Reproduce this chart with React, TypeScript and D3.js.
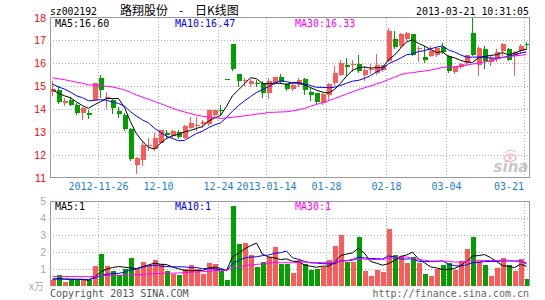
import React from "react";
import * as d3 from "d3";

const W = 545;
const H = 300;

// ---- data ----
const tickIndex = [8, 18, 28, 36, 46, 56, 66, 79];
const tickLabels = ["2012-11-26", "12-10", "12-24", "2013-01-14", "01-28", "02-18", "03-04", "03-21"];
const priceTicks = [11, 12, 13, 14, 15, 16, 17, 18];
const volTicks = [1, 2, 3, 4, 5];

const open = [14.76,14.84,14.25,14.40,14.18,13.81,13.81,14.40,15.35,14.50,14.40,13.91,13.74,13.12,11.53,11.75,12.41,12.24,12.53,12.93,12.82,12.97,12.74,13.18,13.26,13.32,13.32,13.74,13.96,15.31,16.85,15.53,15.25,15.09,15.13,15.13,14.69,15.13,15.38,15.09,14.88,15.06,15.31,14.74,14.69,14.25,14.59,15.13,15.50,15.94,15.94,15.97,15.50,15.72,15.57,15.72,16.09,17.07,16.75,17.04,17.26,16.60,16.26,16.31,16.38,16.71,16.31,15.62,15.82,16.01,17.34,15.94,16.60,16.06,16.21,16.53,16.60,16.31,16.53,16.85];
const high = [15.24,14.99,14.47,14.51,14.25,14.10,13.96,15.15,15.47,14.76,14.43,14.10,13.81,13.15,11.90,12.60,12.74,12.93,13.10,13.07,13.06,13.07,13.29,13.66,13.66,13.51,13.96,13.96,14.15,15.31,16.85,15.53,15.35,15.31,15.28,15.21,15.35,15.38,15.53,15.13,15.13,15.35,15.35,14.94,14.69,14.69,15.13,15.87,16.16,16.24,16.12,16.35,15.87,15.97,16.41,15.94,17.53,17.41,17.34,17.38,17.26,16.75,16.75,16.75,16.71,16.90,16.35,15.87,16.01,16.35,18.00,16.75,16.75,16.38,16.60,16.90,16.65,16.53,16.82,16.94];
const low = [14.59,14.25,14.15,14.15,13.76,13.56,13.62,14.38,14.54,14.03,13.81,13.66,13.07,11.75,11.21,11.53,12.19,12.19,12.49,12.71,12.79,12.71,12.71,13.15,13.07,13.22,13.29,13.66,13.74,15.31,15.72,14.99,15.06,14.99,14.99,14.54,14.47,15.09,15.13,14.84,14.84,14.99,14.65,14.40,14.25,14.21,14.40,15.06,15.47,15.50,15.65,15.62,15.28,15.57,15.53,15.65,16.09,16.68,16.71,17.00,16.35,16.09,16.06,16.31,16.31,16.46,15.62,15.57,15.79,15.94,16.35,15.50,15.79,15.94,16.09,16.38,16.12,15.50,16.46,16.60];
const close = [14.87,14.32,14.35,14.18,13.81,14.06,13.74,15.13,14.84,14.52,14.03,13.76,13.12,11.79,11.85,12.41,12.44,12.74,13.07,12.85,13.03,12.78,13.26,13.37,13.29,13.44,13.96,13.96,13.91,15.31,15.76,15.24,15.28,15.24,15.09,14.69,15.24,15.38,15.18,14.88,15.06,15.28,14.84,14.62,14.29,14.65,15.09,15.57,16.01,15.82,15.97,15.65,15.72,15.76,15.94,15.94,17.41,16.71,17.26,17.34,16.38,16.65,16.12,16.53,16.68,16.50,15.65,15.82,15.97,16.35,16.38,16.68,16.09,16.21,16.50,16.85,16.16,16.50,16.75,16.79];
const volume = [0.36,0.62,0.23,0.36,0.36,0.36,0.36,1.17,1.87,1.17,0.87,0.64,0.99,1.64,0.99,1.40,1.17,1.52,1.32,0.89,0.70,0.64,0.99,1.23,0.99,0.70,1.34,1.28,0.89,0.34,4.70,2.46,2.52,1.83,1.11,1.40,1.68,2.28,1.30,1.30,0.75,1.54,1.28,0.95,0.99,1.09,1.52,2.34,2.99,1.44,1.44,2.87,0.89,0.58,0.93,0.85,3.34,1.81,1.77,1.34,1.68,1.34,0.70,0.58,1.01,1.25,1.34,0.95,1.48,2.17,2.87,1.48,1.25,0.58,1.05,1.64,1.25,0.89,1.58,0.40];
// sessions before the visible window (estimated so the moving averages start where the picture shows)
const priorClose = [15.7,15.5,15.8,15.6,15.4,15.7,15.5,15.6,15.3,15.1,15.4,15.2,15.0,15.3,15.2,15.1,15.9,15.8,16.0,15.9,15.6,15.3,15.5,15.4,14.9,15.1,14.9,14.6,14.73];
const priorVolume = [0.45,0.4,0.5,0.38,0.42,0.45,0.7,0.8,0.65,0.75,0.9,0.6,0.7,0.8,0.75,0.7,0.65,0.8,0.7,0.7,0.4,0.35,0.45,0.4,0.4,0.45,0.38,0.42,0.39];

const maLabels = ["MA5:16.60", "MA10:16.47", "MA30:16.33"];
const volMaLabels = ["MA5:1", "MA10:1", "MA30:1"];

const RED = "#FF5A5A";
const GREEN = "#00A000";
const MA_COLORS = ["#000000", "#0000FF", "#FF00FF"];
const MA_PERIODS = [5, 10, 30];
const MONO = "'DejaVu Sans Mono', monospace";

function movingAvg(prior: number[], vals: number[], n: number): number[] {
  const all = prior.concat(vals);
  const off = prior.length;
  return vals.map((_, i) => d3.mean(all.slice(off + i - n + 1, off + i + 1)) as number);
}

export default function App() {
  const N = close.length;
  const L = 50, R = 530;
  const x = d3.scaleBand<number>().domain(d3.range(N)).range([L, R]).paddingInner(1 / 6).paddingOuter(1 / 12);
  const bw = x.bandwidth();
  const cx = (i: number) => Math.round((x(i) as number) + bw / 2) + 0.5 - 1;
  const bx = (i: number) => Math.round(x(i) as number);

  const yP = d3.scaleLinear().domain([11, 18]).range([177.5, 17.5]);
  const yV = d3.scaleLinear().domain([0, 5]).range([286, 201]);
  const snap = (v: number) => Math.round(v) + 0.5;

  const priceMA = MA_PERIODS.map((n) => movingAvg(priorClose, close, n));
  const volMA = MA_PERIODS.map((n) => movingAvg(priorVolume, volume, n));

  const lineP = d3.line<number>().x((_, i) => cx(i)).y((d) => yP(d));
  const lineV = d3.line<number>().x((_, i) => cx(i)).y((d) => yV(d));

  const gridX = tickIndex.map((i) => snap((x(i) as number) - 1));

  return (
    <div style={{ position: "absolute", left: 0, top: 0, width: W, height: H, background: "#fff" }}>
      <svg width={W} height={H} style={{ display: "block" }}>
        <rect x={0} y={0} width={W} height={H} fill="#fff" />
        {/* title */}
        <text x={50} y={15} fontFamily={MONO} fontSize={11} textLength={47} lengthAdjust="spacingAndGlyphs" fill="#000">sz002192</text>
        <text x={120} y={15} fontFamily="'Noto Sans CJK SC'" fontSize={12} fill="#000">路翔股份</text>
        <text x={179} y={15} fontFamily="'Noto Sans CJK SC'" fontSize={12} fill="#000">-</text>
        <text x={195} y={15} fontFamily="'Noto Sans CJK SC'" fontSize={12} fill="#000">日K线图</text>
        <text x={529} y={15} textAnchor="end" fontFamily={MONO} fontSize={11} textLength={113} lengthAdjust="spacingAndGlyphs" fill="#000">2013-03-21 10:31:05</text>

        {/* main grid */}
        {priceTicks.filter((v) => v > 11 && v < 18).map((v) => (
          <line key={"pg" + v} x1={L} x2={R} y1={snap(yP(v))} y2={snap(yP(v))} stroke="#aaa" strokeDasharray="1,2" />
        ))}
        {gridX.map((gx, k) => (
          <line key={"pv" + k} x1={gx} x2={gx} y1={18} y2={177} stroke="#aaa" strokeDasharray="1,2" />
        ))}
        {/* volume grid */}
        {volTicks.filter((v) => v < 5).map((v) => (
          <line key={"vg" + v} x1={L} x2={R} y1={snap(yV(v))} y2={snap(yV(v))} stroke="#aaa" strokeDasharray="1,2" />
        ))}
        {gridX.map((gx, k) => (
          <line key={"vv" + k} x1={gx} x2={gx} y1={201} y2={286} stroke="#aaa" strokeDasharray="1,2" />
        ))}

        {/* sina watermark */}
        <g opacity={0.75}>
          <ellipse cx={510} cy={158} rx={6} ry={3.5} fill="none" stroke="#F4A3A3" strokeWidth={1.5} />
          <circle cx={510} cy={158} r={1.8} fill="#F4A3A3" />
          <path d="M505,153 Q510,148 516,152" fill="none" stroke="#F4A3A3" strokeWidth={1} />
          <text x={511} y={172} textAnchor="middle" fontFamily="'DejaVu Sans', sans-serif" fontStyle="italic" fontWeight="bold" fontSize={15} fill="#b5b5b5">sina</text>
        </g>

        {/* candles */}
        {close.map((c, i) => {
          const o = open[i];
          const up = c > o;
          const col = up ? RED : GREEN;
          const top = Math.round(yP(Math.max(o, c)));
          const bot = Math.round(yP(Math.min(o, c)));
          const hgt = Math.max(1, bot - top);
          return (
            <g key={"c" + i}>
              <line x1={cx(i)} x2={cx(i)} y1={Math.round(yP(high[i]))} y2={Math.round(yP(low[i])) + 1} stroke={col} />
              <rect x={bx(i)} y={top} width={bw} height={hgt} fill={col} />
            </g>
          );
        })}
        {priceMA.map((m, k) => (
          <path key={"pm" + k} d={lineP(m) as string} fill="none" stroke={MA_COLORS[k]} strokeWidth={1} />
        ))}

        {/* volume bars */}
        {volume.map((v, i) => {
          const col = close[i] > open[i] ? RED : GREEN;
          const t = Math.round(yV(v));
          return <rect key={"v" + i} x={bx(i)} y={t} width={bw} height={286 - t} fill={col} />;
        })}
        {volMA.map((m, k) => (
          <path key={"vm" + k} d={lineV(m) as string} fill="none" stroke={MA_COLORS[k]} strokeWidth={1} />
        ))}

        {/* frames */}
        <rect x={50.5} y={17.5} width={479} height={160} fill="none" stroke="#999" />
        <path d="M50.5,286 V201.5 H529.5 V286" fill="none" stroke="#999" />

        {/* MA labels */}
        {maLabels.map((t, k) => (
          <text key={"ml" + k} x={[55, 175, 295][k]} y={27} fontFamily={MONO} fontSize={10} fill={MA_COLORS[k]}>{t}</text>
        ))}
        {volMaLabels.map((t, k) => (
          <text key={"vl" + k} x={[55, 175, 295][k]} y={210} fontFamily={MONO} fontSize={10} fill={MA_COLORS[k]}>{t}</text>
        ))}

        {/* price axis labels */}
        {priceTicks.map((v) => (
          <text key={"pt" + v} x={46} y={yP(v) + 4} textAnchor="end" fontFamily="'Liberation Sans', sans-serif" fontSize={10.5} fill="#FF0000">{v}</text>
        ))}
        {volTicks.map((v) => (
          <text key={"vt" + v} x={46} y={yV(v) + 4} textAnchor="end" fontFamily="'Liberation Sans', sans-serif" fontSize={10.5} fill="#aaa">{v}</text>
        ))}
        <text x={44} y={290} textAnchor="end" fontFamily="'Noto Sans CJK SC'" fontSize={10} fill="#aaa">x万</text>

        {/* date labels */}
        {tickIndex.map((ti, k) => {
          const last = k === tickIndex.length - 1;
          return (
            <text key={"dl" + k} x={last ? 524 : gridX[k]} y={190} textAnchor={last ? "end" : "middle"} fontFamily={MONO} fontSize={10} fill="#1E7FD6">{tickLabels[k]}</text>
          );
        })}

        {/* footer */}
        <text x={50} y={297} fontFamily={MONO} fontSize={10} fill="#555">Copyright 2013 SINA.COM</text>
        <text x={529} y={297} textAnchor="end" fontFamily={MONO} fontSize={10} fill="#666">http://finance.sina.com.cn</text>
      </svg>
    </div>
  );
}
